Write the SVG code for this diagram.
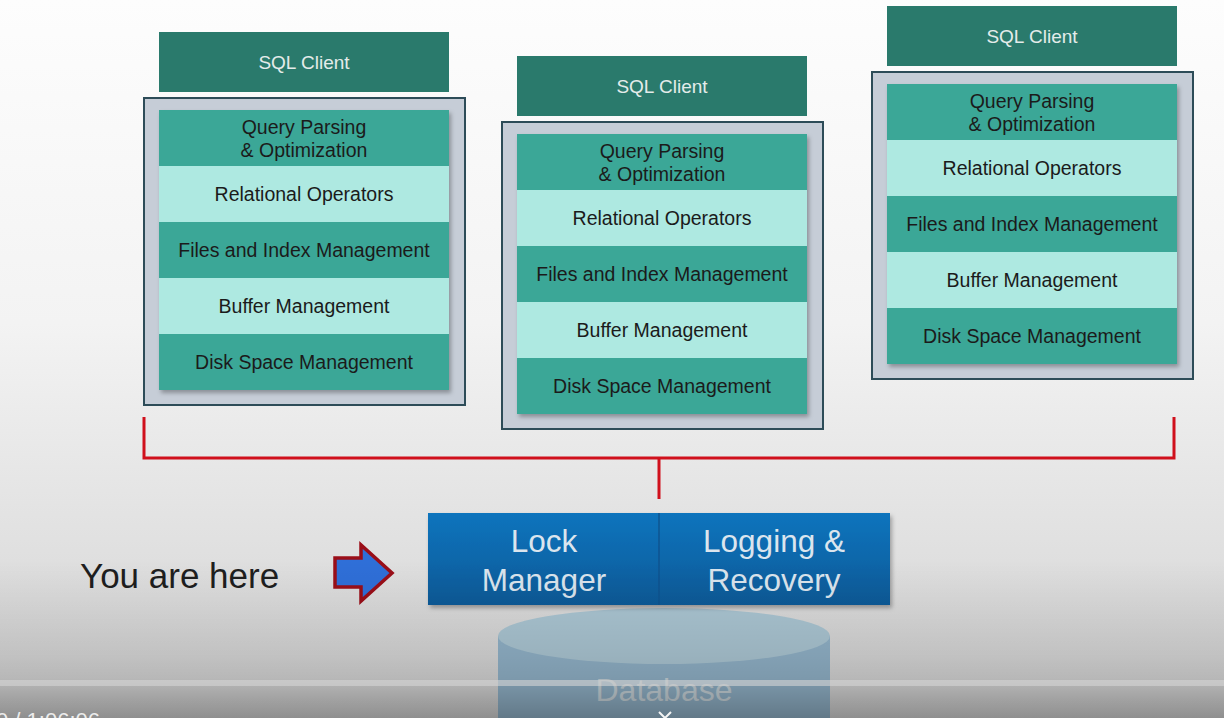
<svg xmlns="http://www.w3.org/2000/svg" width="1224" height="718" viewBox="0 0 1224 718">
<defs>
<linearGradient id="bg" x1="0" y1="0" x2="0" y2="1">
<stop offset="0" stop-color="#fdfdfd"/>
<stop offset="0.45" stop-color="#f3f3f3"/>
<stop offset="1" stop-color="#d2d2d2"/>
</linearGradient>
<linearGradient id="blue" x1="0" y1="0" x2="0" y2="1">
<stop offset="0" stop-color="#0c74bd"/>
<stop offset="1" stop-color="#0a5a98"/>
</linearGradient>
<linearGradient id="bar" x1="0" y1="0" x2="0" y2="1">
<stop offset="0" stop-color="#000" stop-opacity="0"/>
<stop offset="0.6" stop-color="#000" stop-opacity="0.1"/>
<stop offset="0.75" stop-color="#000" stop-opacity="0.14"/>
<stop offset="1" stop-color="#000" stop-opacity="0.32"/>
</linearGradient>
<filter id="sh" x="-10%" y="-10%" width="120%" height="120%">
<feDropShadow dx="2" dy="3" stdDeviation="2" flood-color="#000" flood-opacity="0.3"/>
</filter>
</defs>
<style>
.client{fill:#2a7a6c}
.clientT{fill:#e4ecea;font-family:"Liberation Sans",Arial,sans-serif;font-size:19px;text-anchor:middle}
.cont{fill:#c6cdd7;stroke:#2d4c58;stroke-width:2}
.dark{fill:#3ba797}
.light{fill:#aee9e1}
.lt{fill:#1b1b1b;font-family:"Liberation Sans",Arial,sans-serif;font-size:19.5px;text-anchor:middle}
.bt{fill:#dbe5ee;font-family:"Liberation Sans",Arial,sans-serif;font-size:31.5px;text-anchor:middle}
.conn{fill:none;stroke:#d0101c;stroke-width:3}
</style>
<rect width="1224" height="718" fill="url(#bg)"/>

<g id="stack1" transform="translate(159,32)">
<rect class="client" x="0" y="0" width="290" height="60"/>
<text class="clientT" x="145" y="37">SQL Client</text>
<rect class="cont" x="-15" y="66" width="321" height="307"/>
<g filter="url(#sh)">
<rect class="dark" x="0" y="78" width="290" height="56"/>
<rect class="light" x="0" y="134" width="290" height="56"/>
<rect class="dark" x="0" y="190" width="290" height="56"/>
<rect class="light" x="0" y="246" width="290" height="56"/>
<rect class="dark" x="0" y="302" width="290" height="56"/>
</g>
<text class="lt" x="145" y="102">Query Parsing</text>
<text class="lt" x="145" y="125">&amp; Optimization</text>
<text class="lt" x="145" y="169">Relational Operators</text>
<text class="lt" x="145" y="225">Files and Index Management</text>
<text class="lt" x="145" y="281">Buffer Management</text>
<text class="lt" x="145" y="337">Disk Space Management</text>
</g>

<g id="stack2" transform="translate(517,56)">
<rect class="client" x="0" y="0" width="290" height="60"/>
<text class="clientT" x="145" y="37">SQL Client</text>
<rect class="cont" x="-15" y="66" width="321" height="307"/>
<g filter="url(#sh)">
<rect class="dark" x="0" y="78" width="290" height="56"/>
<rect class="light" x="0" y="134" width="290" height="56"/>
<rect class="dark" x="0" y="190" width="290" height="56"/>
<rect class="light" x="0" y="246" width="290" height="56"/>
<rect class="dark" x="0" y="302" width="290" height="56"/>
</g>
<text class="lt" x="145" y="102">Query Parsing</text>
<text class="lt" x="145" y="125">&amp; Optimization</text>
<text class="lt" x="145" y="169">Relational Operators</text>
<text class="lt" x="145" y="225">Files and Index Management</text>
<text class="lt" x="145" y="281">Buffer Management</text>
<text class="lt" x="145" y="337">Disk Space Management</text>
</g>

<g id="stack3" transform="translate(887,6)">
<rect class="client" x="0" y="0" width="290" height="60"/>
<text class="clientT" x="145" y="37">SQL Client</text>
<rect class="cont" x="-15" y="66" width="321" height="307"/>
<g filter="url(#sh)">
<rect class="dark" x="0" y="78" width="290" height="56"/>
<rect class="light" x="0" y="134" width="290" height="56"/>
<rect class="dark" x="0" y="190" width="290" height="56"/>
<rect class="light" x="0" y="246" width="290" height="56"/>
<rect class="dark" x="0" y="302" width="290" height="56"/>
</g>
<text class="lt" x="145" y="102">Query Parsing</text>
<text class="lt" x="145" y="125">&amp; Optimization</text>
<text class="lt" x="145" y="169">Relational Operators</text>
<text class="lt" x="145" y="225">Files and Index Management</text>
<text class="lt" x="145" y="281">Buffer Management</text>
<text class="lt" x="145" y="337">Disk Space Management</text>
</g>

<g id="connectors">
<path class="conn" d="M144,417 V458 H1174 V417"/>
<path class="conn" d="M659,458 V499"/>
</g>

<g id="database">
<path d="M498,636 V718 H830 V636 Z" fill="#8aaec6" fill-opacity="0.9"/>
<ellipse cx="664" cy="636" rx="166" ry="28" fill="#abc6d3"/>
<text x="664" y="701" fill="#c8d4da" font-family="Liberation Sans,Arial,sans-serif" font-size="32" text-anchor="middle">Database</text>
</g>

<g id="services" filter="url(#sh)">
<rect x="428" y="513" width="462" height="92" fill="url(#blue)"/>
<line x1="659" y1="513" x2="659" y2="605" stroke="#0a5590" stroke-width="1.5"/>
</g>
<g id="lock">
<text class="bt" x="544" y="552">Lock</text>
<text class="bt" x="544" y="591">Manager</text>
</g>
<g id="logging">
<text class="bt" x="774" y="552">Logging &amp;</text>
<text class="bt" x="774" y="591">Recovery</text>
</g>

<g id="here">
<text x="80" y="588" fill="#1e1e1e" font-family="Liberation Sans,Arial,sans-serif" font-size="35">You are here</text>
<path d="M335,558 H361 V545 L392,573 L361,601 V587 H335 Z" fill="#2f6fd8" stroke="#9a0e18" stroke-width="3.5" stroke-linejoin="miter"/>
</g>

<g id="player">
<rect x="0" y="560" width="1224" height="158" fill="url(#bar)"/>
<rect x="0" y="680" width="1224" height="6" fill="#d6d6d6" fill-opacity="0.6"/>
<text x="-4" y="728" fill="#ececec" font-family="Liberation Sans,Arial,sans-serif" font-size="22">0 / 1:06:06</text>
<path d="M659,712 L665,718 L671,712" fill="none" stroke="#f4f4f4" stroke-width="2"/>
</g>
</svg>
